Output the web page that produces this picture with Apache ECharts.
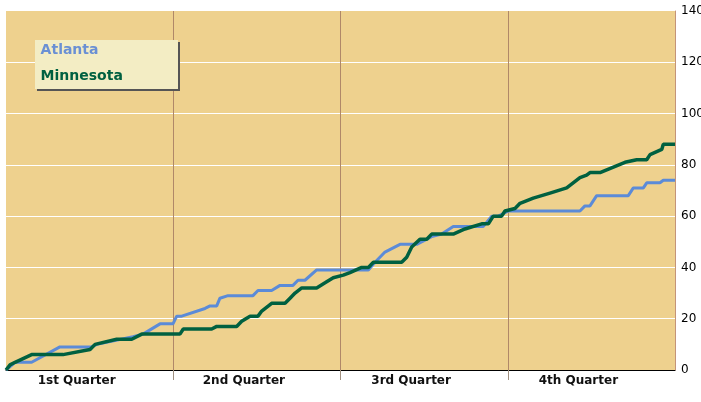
<!DOCTYPE html>
<html>
<head>
<meta charset="utf-8">
<script src="https://cdn.jsdelivr.net/npm/echarts@6/dist/echarts.min.js"></script>
<style>
html,body{margin:0;padding:0;background:#fff;}
#c{width:701px;height:402px;}
</style>
</head>
<body>
<div id="c"></div>
<script>
// Quarter labels and y ticks
var quarterLabels = ['1st Quarter', '2nd Quarter', '3rd Quarter', '4th Quarter'];
var yMin = 0, yMax = 140, yStep = 20;
var seriesNames = ['Atlanta', 'Minnesota'];

// Game minute (0..48) and cumulative score
var atlantaTime = [0,0.65,1.84,3.87,6.15,6.51,9.11,9.83,11.05,11.98,12.25,12.61,14.28,14.64,15.12,15.35,15.93,16.55,17.72,18.08,19.06,19.66,20.59,20.95,21.45,22.29,24.68,26.0,26.48,27.19,28.27,29.47,30.54,31.26,32.09,34.25,34.85,35.32,36.04,41.18,41.54,41.9,42.38,44.65,45.01,45.73,45.97,46.92,47.16,48];
var atlantaScore = [0,3,3,9,9,10,13,14,18,18,21,21,24,25,25,28,29,29,29,31,31,33,33,35,35,39,39,39,42,46,49,49,52,53,56,56,60,60,62,62,64,64,68,68,71,71,73,73,74,74];

var minnesotaTime = [0,0.29,0.65,1.84,4.09,6.03,6.39,7.94,9.02,9.74,12.48,12.72,14.76,15.12,16.55,16.91,17.51,18.08,18.35,19.06,20.02,20.38,20.74,21.22,22.29,22.89,23.48,24.2,24.68,25.52,26.0,26.36,28.39,28.75,29.11,29.7,30.19,30.54,32.09,32.93,34.13,34.61,34.96,35.56,35.8,36.52,36.88,37.83,39.03,40.23,41.18,41.66,41.9,42.62,44.41,45.25,45.97,46.21,47.05,47.16,48];
var minnesotaScore = [0,2,3,6,6,8,10,12,12,14,14,16,16,17,17,19,21,21,23,26,26,28,30,32,32,34,36,37,38,40,40,42,42,44,48,51,51,53,53,55,57,57,60,60,62,63,65,67,69,71,75,76,77,77,81,82,82,84,86,88,88];

function pairs(t, v) { return t.map(function (x, i) { return [x, v[i]]; }); }

var chart = echarts.init(document.getElementById('c'), null, {renderer: 'canvas'});
var font = '"DejaVu Sans", Verdana, sans-serif';
chart.setOption({
  animation: false,
  backgroundColor: '#ffffff',
  textStyle: {fontFamily: font},
  grid: {left: 6, right: 26, top: 11, bottom: 32, outerBoundsMode: 'none', containLabel: false,
         show: true, backgroundColor: '#eed18e', borderWidth: 0, borderColor: 'transparent'},
  graphic: [{
    type: 'rect', z: 3, left: 35, top: 40,
    shape: {width: 143, height: 49},
    style: {fill: '#f3edc4', shadowColor: '#555555', shadowBlur: 0, shadowOffsetX: 2, shadowOffsetY: 2}
  }],
  legend: {
    z: 10,
    orient: 'vertical', left: 30, top: 40,
    padding: [3, 20, 6, 0], itemGap: 12, itemWidth: 0, itemHeight: 14,
    backgroundColor: 'transparent',
    itemStyle: {opacity: 0}, lineStyle: {opacity: 0},
    data: [
      {name: seriesNames[0], textStyle: {color: '#6a90d4'}},
      {name: seriesNames[1], textStyle: {color: '#006040'}}
    ],
    textStyle: {fontFamily: font, fontSize: 14, fontWeight: 'bold'}
  },
  xAxis: [
    {
      type: 'value', min: 0, max: 48, interval: 12,
      axisLine: {show: true, onZero: false, lineStyle: {color: '#000000', width: 1}},
      axisTick: {show: true, length: 10, lineStyle: {color: '#a09080'}, customValues: [12, 24, 36]},
      axisLabel: {show: false},
      splitLine: {show: true, lineStyle: {color: '#b08868', width: 1}}
    },
    {
      type: 'category', data: quarterLabels, boundaryGap: true, position: 'bottom',
      axisLine: {show: false}, axisTick: {show: false}, splitLine: {show: false},
      axisLabel: {color: '#111111', fontSize: 12, fontWeight: 'bold', margin: 5, fontFamily: font, padding: [0, 26, 0, 0]}
    }
  ],
  yAxis: {
    type: 'value', position: 'right', min: yMin, max: yMax, interval: yStep,
    axisLine: {show: true, onZero: false, lineStyle: {color: '#c49478', width: 1}},
    axisTick: {show: false},
    axisLabel: {color: '#000000', fontSize: 12, margin: 6, fontFamily: font},
    splitLine: {show: true, showMaxLine: false, lineStyle: {color: '#ffffff', width: 1}}
  },
  series: [
    {name: seriesNames[0], type: 'line', xAxisIndex: 0, data: pairs(atlantaTime, atlantaScore),
     symbol: 'none', lineStyle: {color: '#5b8bd8', width: 3}, itemStyle: {color: '#5b8bd8'}},
    {name: seriesNames[1], type: 'line', xAxisIndex: 0, data: pairs(minnesotaTime, minnesotaScore),
     symbol: 'none', lineStyle: {color: '#006040', width: 3.5}, itemStyle: {color: '#006040'}}
  ]
});
</script>
</body>
</html>
